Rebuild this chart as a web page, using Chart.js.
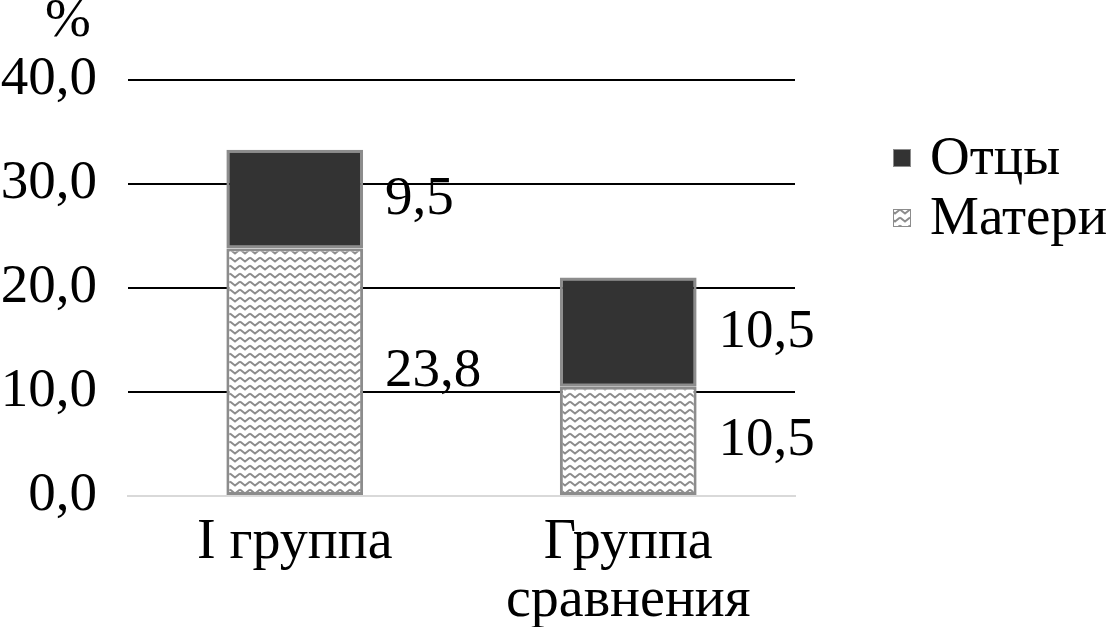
<!DOCTYPE html>
<html>
<head>
<meta charset="utf-8">
<script src="https://cdn.jsdelivr.net/npm/chart.js@4.4.1/dist/chart.umd.min.js"></script>
<style>
  html, body { margin: 0; padding: 0; background: #fff; }
  #wrap { width: 1108px; height: 627px; }
</style>
</head>
<body>
<div id="wrap"><canvas id="chart"></canvas></div>
<script>
"use strict";

// data
var categories = ["I группа", ["Группа", "сравнения"]];
var seriesNames = ["Матери", "Отцы"];
var mothers = [23.8, 10.5];
var fathers = [9.5, 10.5];
var yTicks = [0, 10, 20, 30, 40];

var serif = "'Liberation Serif', 'Times New Roman', serif";

// zigzag fill like the Excel pattern
function MakeZigzag() {
    var c = document.createElement('canvas');
    c.width = 10;
    c.height = 8;
    var g = c.getContext('2d');
    g.fillStyle = '#ffffff';
    g.fillRect(0, 0, 10, 8);
    g.strokeStyle = '#8c8c8c';
    g.lineWidth = 2;
    g.beginPath();
    g.moveTo(0, 1.5);
    g.lineTo(5, 5.5);
    g.lineTo(10, 1.5);
    g.stroke();
    return g.createPattern(c, 'repeat');
}

function FormatNum(v) {
    return Number(v).toFixed(1).replace('.', ',');
}

var labelPlugin = {
    id: 'valueLabels',
    afterDatasetsDraw: function (chart) {
        var ctx = chart.ctx;
        ctx.save();
        ctx.font = '55px ' + serif;
        ctx.fillStyle = '#000';
        ctx.textBaseline = 'middle';
        ctx.textAlign = 'left';
        chart.data.datasets.forEach(function (ds, di) {
            var meta = chart.getDatasetMeta(di);
            meta.data.forEach(function (bar, i) {
                var p = bar.getProps(['x', 'y', 'base', 'width'], true);
                var cy = (p.y + p.base) / 2;
                ctx.fillText(FormatNum(ds.data[i]), p.x + p.width / 2 + 22, cy);
            });
        });
        // unit above the value axis
        var ya = chart.scales.y;
        ctx.textAlign = 'center';
        ctx.fillText('%', ya.left + ya.width / 2 + 4, chart.chartArea.top - 58);
        ctx.restore();
    }
};

// legend drawn on the right, Отцы first
var legendPlugin = {
    id: 'sideLegend',
    afterDraw: function (chart) {
        var ctx = chart.ctx;
        var area = chart.chartArea;
        var x = area.right + 98;
        var y = 158;
        ctx.save();
        ctx.font = '55px ' + serif;
        ctx.textBaseline = 'middle';
        ctx.textAlign = 'left';
        for (var di = chart.data.datasets.length - 1; di >= 0; di--) {
            var ds = chart.data.datasets[di];
            ctx.fillStyle = ds.backgroundColor;
            ctx.fillRect(x, y - 9, 18, 18);
            ctx.strokeStyle = ds.borderColor;
            ctx.lineWidth = 1;
            ctx.strokeRect(x + 0.5, y - 8.5, 17, 17);
            ctx.fillStyle = '#000';
            ctx.fillText(ds.label, x + 37, y + 2);
            y += 60;
        }
        ctx.restore();
    }
};

var zig = MakeZigzag();

const context = document.getElementById('chart');
const myChart = new Chart(context, {
    type: 'bar',
    data: {
        labels: categories,
        datasets: [{
            label: seriesNames[0],
            data: mothers,
            backgroundColor: zig,
            borderColor: '#8c8c8c',
            borderWidth: 3,
            borderSkipped: false,
            stack: 's'
        }, {
            label: seriesNames[1],
            data: fathers,
            backgroundColor: '#333333',
            borderColor: '#8c8c8c',
            borderWidth: 3,
            borderSkipped: false,
            stack: 's'
        }]
    },
    options: {
        responsive: true,
        maintainAspectRatio: false,
        animation: false,
        layout: { padding: { top: 80, left: 0, right: 313, bottom: 0 } },
        datasets: { bar: { barPercentage: 0.41, categoryPercentage: 1 } },
        plugins: {
            tooltip: { enabled: false },
            legend: { display: false }
        },
        scales: {
            x: {
                stacked: true,
                grid: { display: false },
                border: { display: true, color: '#d9d9d9', width: 2 },
                afterFit: function (axis) {
                    axis.height = 131;
                },
                ticks: {
                    color: '#000',
                    font: { family: serif, size: 56, lineHeight: 1.04 },
                    padding: 10,
                    maxRotation: 0,
                    autoSkip: false
                }
            },
            y: {
                stacked: true,
                min: yTicks[0],
                max: yTicks[yTicks.length - 1],
                afterBuildTicks: function (axis) {
                    axis.ticks = yTicks.map(function (v) { return { value: v }; });
                },
                afterFit: function (axis) {
                    axis.width = 128;
                },
                border: { display: false },
                grid: {
                    color: function (c) { return c.tick.value === 0 ? 'rgba(0,0,0,0)' : '#000'; },
                    lineWidth: 2,
                    drawTicks: false
                },
                ticks: {
                    color: '#000',
                    font: { family: serif, size: 55 },
                    padding: 31,
                    callback: function (v) { return FormatNum(v); }
                }
            }
        }
    },
    plugins: [labelPlugin, legendPlugin]
});
</script>
</body>
</html>
